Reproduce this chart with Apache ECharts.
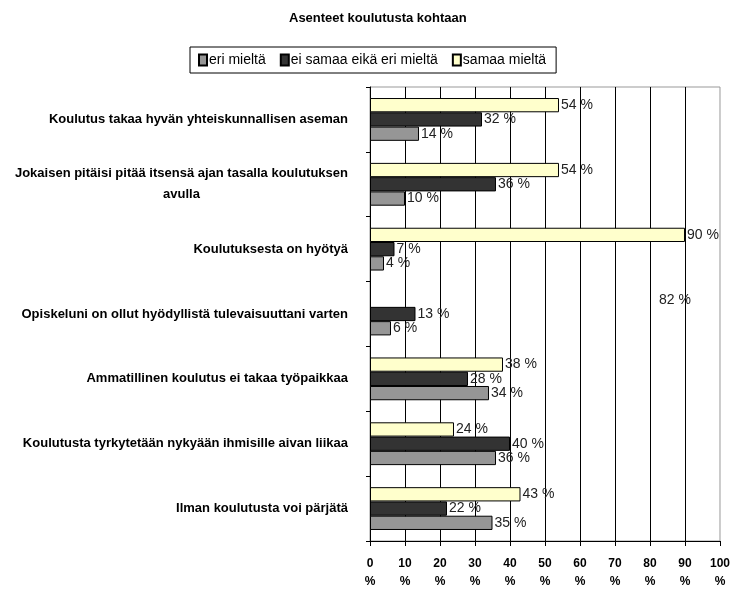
<!DOCTYPE html>
<html>
<head>
<meta charset="utf-8">
<script src="https://cdn.jsdelivr.net/npm/echarts@6/dist/echarts.min.js"></script>
<style>
  html, body { margin: 0; padding: 0; background: #fff; }
  #chart { width: 733px; height: 596px; }
</style>
</head>
<body>
<div id="chart"></div>
<script>
const title = "Asenteet koulutusta kohtaan";

const categories = [
  "Koulutus takaa hyvän yhteiskunnallisen aseman",
  "Jokaisen pitäisi pitää itsensä ajan tasalla koulutuksen\navulla",
  "Koulutuksesta on hyötyä",
  "Opiskeluni on ollut hyödyllistä tulevaisuuttani varten",
  "Ammatillinen koulutus ei takaa työpaikkaa",
  "Koulutusta tyrkytetään nykyään ihmisille aivan liikaa",
  "Ilman koulutusta voi pärjätä"
];

const seriesNames = ["eri mieltä", "ei samaa eikä eri mieltä", "samaa mieltä"];

const eriMielta = [14, 10, 4, 6, 34, 36, 35];
const eiSamaaEikaEri = [32, 36, 7, 13, 28, 40, 22];
const samaaMielta = [54, 54, 90, 82, 38, 24, 43];

// the 82 % bar is not drawn in the original, only its label
const hiddenBars = [3];

const xTicks = [0, 10, 20, 30, 40, 50, 60, 70, 80, 90, 100];

const colors = ["#969696", "#333333", "#ffffcc"];

function barSeries(name, values, color) {
  return {
    name: name,
    type: "bar",
    barGap: "0%",
    barCategoryGap: "34%",
    itemStyle: { color: color, borderColor: "#000", borderWidth: 1 },
    label: {
      show: true,
      position: "right",
      distance: 2,
      formatter: "{c} %",
      color: "#222",
      fontFamily: "Liberation Sans",
      fontSize: 14
    },
    data: values.map((v, i) =>
      name === seriesNames[2] && hiddenBars.includes(i)
        ? { value: v, itemStyle: { color: "rgba(0,0,0,0)", borderWidth: 0 } }
        : v
    )
  };
}

const chart = echarts.init(document.getElementById("chart"));

chart.setOption({
  backgroundColor: "#fff",
  animation: false,
  textStyle: { fontFamily: "Liberation Sans" },
  title: {
    text: title,
    left: 284,
    top: 7,
    textStyle: { fontSize: 13, fontWeight: "bold", color: "#000" }
  },
  legend: {
    data: seriesNames,
    icon: "rect",
    left: 190,
    top: 47,
    padding: [6, 10, 6, 8],
    itemGap: 14,
    itemWidth: 8,
    itemHeight: 11,
    borderColor: "#000",
    borderWidth: 1,
    textStyle: { fontSize: 14, color: "#000", padding: [0, 0, 0, -3] }
  },
  grid: {
    left: 370,
    right: 11,
    top: 87,
    bottom: 55,
    show: true,
    borderColor: "#999",
    borderWidth: 1
  },
  xAxis: {
    type: "value",
    min: xTicks[0],
    max: xTicks[xTicks.length - 1],
    interval: xTicks[1] - xTicks[0],
    axisLine: { show: true, lineStyle: { color: "#000", width: 1 } },
    axisTick: { show: true, length: 5, lineStyle: { color: "#000" } },
    splitLine: { show: true, showMaxLine: false, lineStyle: { color: "#000", width: 1 } },
    axisLabel: {
      formatter: v => v + "\n%",
      color: "#000",
      fontWeight: "bold",
      fontSize: 12,
      lineHeight: 18,
      margin: 14
    }
  },
  yAxis: {
    type: "category",
    inverse: true,
    data: categories,
    axisLine: { show: true, lineStyle: { color: "#000", width: 1 } },
    axisTick: { show: true, length: 4, lineStyle: { color: "#000" } },
    splitLine: { show: false },
    axisLabel: {
      margin: 22,
      color: "#000",
      fontWeight: "bold",
      fontSize: 13,
      lineHeight: 21,
      formatter: v => {
        if (v.indexOf("\n") < 0) return v;
        return v.split("\n").map(s => "{c|" + s + "}").join("\n");
      },
      rich: {
        c: { align: "center", fontWeight: "bold", fontSize: 13, lineHeight: 21, color: "#000" }
      }
    }
  },
  // series listed top-down within each group: samaa on top, eri at the bottom
  series: [
    barSeries(seriesNames[2], samaaMielta, colors[2]),
    barSeries(seriesNames[1], eiSamaaEikaEri, colors[1]),
    barSeries(seriesNames[0], eriMielta, colors[0])
  ]
});
</script>
</body>
</html>
